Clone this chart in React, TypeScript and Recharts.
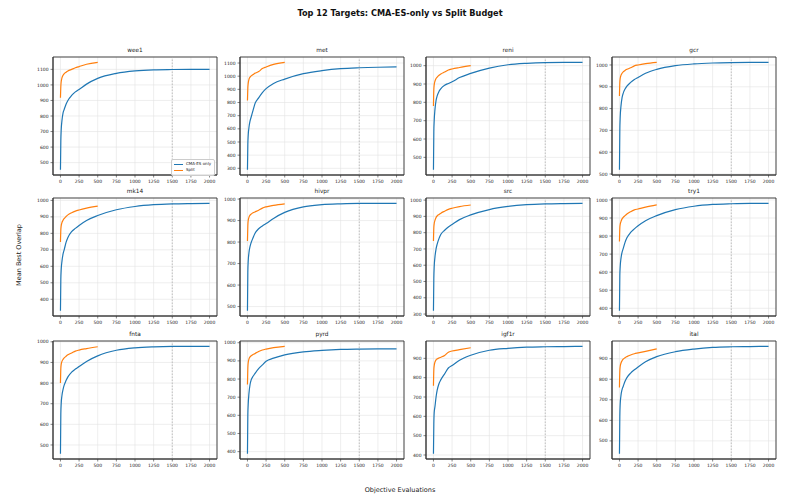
import React from 'react';
import {
  LineChart,
  Line,
  XAxis,
  YAxis,
  CartesianGrid,
  ReferenceLine,
  ReferenceArea,
  Legend,
} from 'recharts';

// evaluation counts sampled along each run
const CMA_X = [0, 5, 10, 20, 35, 50, 75, 100, 150, 200, 250, 350, 500, 750, 1000, 1250, 1500, 1750, 2000];
const SPLIT_X = [0, 5, 10, 20, 35, 50, 75, 100, 150, 200, 250, 350, 500];
const X_TICKS = [0, 250, 500, 750, 1000, 1250, 1500, 1750, 2000];
const BUDGET_MARK = 1500;

const TARGETS = ['wee1', 'met', 'reni', 'gcr', 'mk14', 'hivpr', 'src', 'try1', 'fnta', 'pyrd', 'igf1r', 'ital'];

// mean best overlap, CMA-ES only
const CMA_WEE1 = [455, 640, 710, 770, 820, 842, 876, 900, 932, 955, 971, 1005, 1042, 1074, 1090, 1097, 1099, 1100, 1100];
const CMA_MET = [290, 480, 550, 610, 660, 690, 740, 790, 835, 875, 905, 945, 978, 1019, 1042, 1057, 1064, 1068, 1070];
const CMA_RENI = [433, 640, 700, 760, 810, 835, 860, 875, 893, 903, 912, 935, 958, 987, 1005, 1013, 1017, 1018, 1018];
const CMA_GCR = [520, 700, 760, 810, 850, 870, 890, 903, 920, 933, 943, 962, 980, 997, 1005, 1009, 1011, 1012, 1012];
const CMA_MK14 = [331, 520, 580, 630, 675, 700, 745, 775, 810, 830, 848, 878, 908, 943, 963, 974, 979, 981, 982];
const CMA_HIVPR = [481, 660, 710, 750, 780, 798, 820, 840, 862, 875, 886, 910, 938, 964, 974, 978, 980, 980, 980];
const CMA_SRC = [321, 520, 590, 650, 700, 730, 765, 790, 815, 835, 850, 880, 909, 942, 961, 972, 977, 979, 980];
const CMA_TRY1 = [387, 580, 630, 675, 710, 730, 765, 790, 820, 840, 857, 885, 913, 946, 965, 975, 979, 981, 981];
const CMA_FNTA = [458, 650, 700, 740, 770, 790, 812, 830, 853, 868, 880, 905, 932, 959, 971, 976, 978, 978, 978];
const CMA_PYRD = [389, 600, 660, 720, 770, 795, 815, 830, 857, 878, 898, 915, 933, 950, 958, 963, 965, 966, 966];
const CMA_IGF1R = [407, 560, 620, 650, 700, 735, 770, 790, 820, 850, 863, 890, 916, 942, 952, 958, 960, 961, 962];
const CMA_ITAL = [438, 620, 680, 720, 750, 765, 790, 808, 830, 846, 860, 885, 910, 934, 947, 955, 958, 959, 960];

// mean best overlap, split budget
const SPLIT_WEE1 = [917, 990, 1020, 1045, 1062, 1072, 1082, 1090, 1100, 1110, 1118, 1133, 1145];
const SPLIT_MET = [815, 910, 945, 975, 993, 1002, 1012, 1022, 1035, 1058, 1070, 1090, 1105];
const SPLIT_RENI = [780, 870, 895, 915, 930, 938, 948, 955, 965, 976, 982, 990, 1000];
const SPLIT_GCR = [858, 920, 938, 952, 962, 968, 975, 980, 987, 996, 1000, 1006, 1012];
const SPLIT_MK14 = [747, 820, 845, 865, 880, 890, 902, 912, 925, 935, 942, 953, 965];
const SPLIT_HIVPR = [805, 875, 900, 915, 925, 930, 936, 940, 948, 958, 964, 971, 978];
const SPLIT_SRC = [749, 830, 855, 875, 893, 903, 912, 920, 932, 943, 950, 960, 970];
const SPLIT_TRY1 = [770, 845, 865, 880, 895, 903, 913, 922, 935, 945, 950, 960, 973];
const SPLIT_FNTA = [800, 870, 890, 905, 915, 922, 930, 937, 946, 955, 960, 967, 976];
const SPLIT_PYRD = [770, 860, 890, 910, 922, 928, 935, 940, 952, 960, 965, 973, 980];
const SPLIT_IGF1R = [758, 840, 862, 880, 892, 897, 902, 906, 915, 932, 938, 945, 955];
const SPLIT_ITAL = [760, 840, 862, 878, 890, 898, 905, 910, 918, 924, 928, 936, 948];

const CMA_SERIES = [CMA_WEE1, CMA_MET, CMA_RENI, CMA_GCR, CMA_MK14, CMA_HIVPR, CMA_SRC, CMA_TRY1, CMA_FNTA, CMA_PYRD, CMA_IGF1R, CMA_ITAL];
const SPLIT_SERIES = [SPLIT_WEE1, SPLIT_MET, SPLIT_RENI, SPLIT_GCR, SPLIT_MK14, SPLIT_HIVPR, SPLIT_SRC, SPLIT_TRY1, SPLIT_FNTA, SPLIT_PYRD, SPLIT_IGF1R, SPLIT_ITAL];

const Y_TICKS = [
  [500, 600, 700, 800, 900, 1000, 1100],
  [300, 400, 500, 600, 700, 800, 900, 1000, 1100],
  [500, 600, 700, 800, 900, 1000],
  [500, 600, 700, 800, 900, 1000],
  [400, 500, 600, 700, 800, 900, 1000],
  [500, 600, 700, 800, 900, 1000],
  [300, 400, 500, 600, 700, 800, 900, 1000],
  [400, 500, 600, 700, 800, 900, 1000],
  [500, 600, 700, 800, 900, 1000],
  [400, 500, 600, 700, 800, 900, 1000],
  [400, 500, 600, 700, 800, 900],
  [500, 600, 700, 800, 900],
];

const BLUE = '#1f77b4';
const ORANGE = '#ff7f0e';
const FONT = '"DejaVu Sans", sans-serif';

const COL_LEFT = [53, 240, 426, 612];
const ROW_TOP = [57, 198, 341];
const PLOT_W = 164;
const PLOT_H = 118;
const PAD_L = 40;
const PAD_T = 20;
const PAD_R = 6;
const PAD_B = 16;
const X_DOMAIN = [-100, 2100];

const tickStyle = { fill: '#222', fontSize: 4.5, fontFamily: FONT };

function LegendBox() {
  const rows = [
    { label: 'CMA-ES only', color: BLUE },
    { label: 'Split', color: ORANGE },
  ];
  return (
    <div
      style={{
        display: 'inline-block',
        border: '0.6px solid #ccc',
        borderRadius: 2,
        background: 'rgba(255,255,255,0.85)',
        padding: '1.5px 3px 1.5px 2px',
        fontFamily: FONT,
        fontSize: 4,
        color: '#222',
        lineHeight: '6px',
        whiteSpace: 'nowrap',
      }}
    >
      {rows.map((r) => (
        <div key={r.label} style={{ display: 'flex', alignItems: 'center' }}>
          <span style={{ display: 'inline-block', width: 9, height: 1.3, background: r.color, marginRight: 3 }} />
          {r.label}
        </div>
      ))}
    </div>
  );
}

function Panel({ idx }: { idx: number }) {
  const name = TARGETS[idx];
  const cma = CMA_X.map((x, i) => ({ x, y: CMA_SERIES[idx][i] }));
  const split = SPLIT_X.map((x, i) => ({ x, y: SPLIT_SERIES[idx][i] }));
  const all = [...CMA_SERIES[idx], ...SPLIT_SERIES[idx]];
  const lo = Math.min(...all);
  const hi = Math.max(...all);
  const pad = (hi - lo) * 0.05;
  const yDomain = [lo - pad, hi + pad];
  const left = COL_LEFT[idx % 4];
  const top = ROW_TOP[Math.floor(idx / 4)];

  return (
    <div style={{ position: 'absolute', left: left - PAD_L, top: top - PAD_T }}>
      <div
        style={{
          position: 'absolute',
          left: PAD_L,
          width: PLOT_W,
          top: 10,
          textAlign: 'center',
          fontFamily: FONT,
          fontSize: 5.8,
          color: '#222',
        }}
      >
        {name}
      </div>
      <LineChart
        width={PLOT_W + PAD_L + PAD_R}
        height={PLOT_H + PAD_T + PAD_B}
        margin={{ top: PAD_T, right: PAD_R, left: 0, bottom: 0 }}
      >
        <CartesianGrid stroke="#e2e2e2" strokeWidth={0.6} />
        <XAxis
          dataKey="x"
          type="number"
          domain={X_DOMAIN}
          ticks={X_TICKS}
          interval={0}
          height={PAD_B}
          tick={tickStyle}
          tickSize={2.5}
          tickLine={{ stroke: '#333', strokeWidth: 0.6 }}
          axisLine={{ stroke: '#333', strokeWidth: 0.9 }}
        />
        <YAxis
          type="number"
          domain={yDomain}
          ticks={Y_TICKS[idx]}
          interval={0}
          width={PAD_L}
          tick={tickStyle}
          tickSize={2.5}
          tickLine={{ stroke: '#333', strokeWidth: 0.6 }}
          axisLine={{ stroke: '#333', strokeWidth: 0.9 }}
        />
        <ReferenceLine x={BUDGET_MARK} stroke="#aaa" strokeWidth={0.7} strokeDasharray="1.5 1.5" />
        <Line
          data={cma}
          dataKey="y"
          name="CMA-ES only"
          type="monotone"
          stroke={BLUE}
          strokeWidth={1.2}
          dot={false}
          isAnimationActive={false}
        />
        <Line
          data={split}
          dataKey="y"
          name="Split"
          type="monotone"
          stroke={ORANGE}
          strokeWidth={1.2}
          dot={false}
          isAnimationActive={false}
        />
        <ReferenceArea
          x1={X_DOMAIN[0]}
          x2={X_DOMAIN[1]}
          y1={yDomain[0]}
          y2={yDomain[1]}
          fill="none"
          fillOpacity={0}
          stroke="#333"
          strokeWidth={0.9}
          ifOverflow="visible"
        />
        {idx === 0 && (
          <Legend
            layout="vertical"
            align="center"
            verticalAlign="middle"
            content={() => <LegendBox />}
            wrapperStyle={{ left: PAD_L + 118, top: PAD_T + 99, width: 'auto' }}
          />
        )}
      </LineChart>
    </div>
  );
}

export default function App() {
  return (
    <div
      style={{
        position: 'absolute',
        left: 0,
        top: 0,
        width: 800,
        height: 500,
        background: '#fff',
        fontFamily: FONT,
        overflow: 'hidden',
      }}
    >
      <div
        style={{
          position: 'absolute',
          top: 8,
          width: 800,
          textAlign: 'center',
          fontWeight: 'bold',
          fontSize: 8.2,
          color: '#111',
        }}
      >
        Top 12 Targets: CMA-ES-only vs Split Budget
      </div>
      {TARGETS.map((t, i) => (
        <Panel key={t} idx={i} />
      ))}
      <div
        style={{
          position: 'absolute',
          left: 19,
          top: 255,
          transform: 'translate(-50%, -50%) rotate(-90deg)',
          whiteSpace: 'nowrap',
          fontSize: 6.5,
          color: '#222',
        }}
      >
        Mean Best Overlap
      </div>
      <div
        style={{
          position: 'absolute',
          top: 486,
          width: 800,
          textAlign: 'center',
          fontSize: 6.5,
          color: '#222',
        }}
      >
        Objective Evaluations
      </div>
    </div>
  );
}
